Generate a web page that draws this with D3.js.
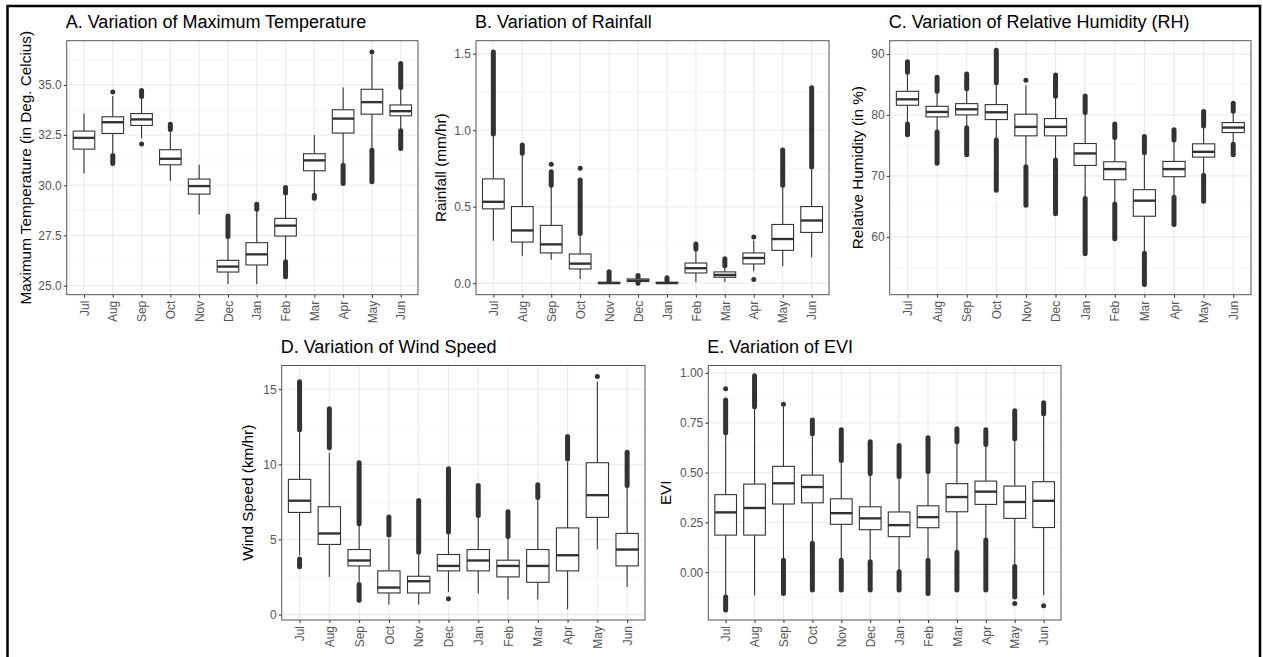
<!DOCTYPE html>
<html>
<head>
<meta charset="utf-8">
<script src="https://cdn.jsdelivr.net/npm/d3@7"></script>
<style>
  body { margin: 0; background: #fff; }
  svg { display: block; font-family: "Liberation Sans", Arial, sans-serif; }
</style>
</head>
<body>
<div id="chart"></div>
<script>
var months = ["Jul", "Aug", "Sep", "Oct", "Nov", "Dec", "Jan", "Feb", "Mar", "Apr", "May", "Jun"];

// box stats per month: [lower whisker, q1, median, q3, upper whisker]
// ranges = dense runs of outliers (drawn as stacked points), points = single outliers

// A. max temperature
var tempStats = [
  [30.59, 31.80, 32.36, 32.70, 33.57], [31.58, 32.58, 33.14, 33.41, 34.45],
  [32.33, 32.98, 33.28, 33.57, 34.35], [30.21, 31.02, 31.32, 31.77, 32.66],
  [28.55, 29.56, 29.96, 30.31, 31.02], [25.08, 25.68, 25.95, 26.26, 27.40],
  [25.08, 26.03, 26.56, 27.14, 28.76], [26.23, 27.47, 27.99, 28.35, 29.65],
  [29.59, 30.72, 31.24, 31.57, 32.50], [31.09, 32.60, 33.32, 33.76, 34.87],
  [31.83, 33.54, 34.14, 34.78, 36.50], [32.74, 33.46, 33.69, 34.00, 34.82]
];
var tempRanges = [
  [], [[31.09, 31.48]], [[34.42, 34.72]], [[32.78, 33.04]], [], [[27.45, 28.47]],
  [[28.80, 29.06]], [[25.45, 26.19], [29.62, 29.89]], [[29.35, 29.50]], [[30.09, 31.00]],
  [[30.17, 31.75]], [[31.83, 32.71], [34.87, 36.06]]
];
var tempPoints = [[], [34.64], [32.05], [], [], [], [], [], [], [], [36.64], []];
var tempTicks = [25, 27.5, 30, 32.5, 35];

// B. rainfall
var rainStats = [
  [0.278, 0.486, 0.532, 0.682, 0.968], [0.180, 0.269, 0.345, 0.501, 0.840],
  [0.154, 0.198, 0.254, 0.378, 0.632], [0.028, 0.093, 0.128, 0.191, 0.317],
  [0.000, 0.000, 0.001, 0.006, 0.010], [0.005, 0.011, 0.017, 0.028, 0.035],
  [0.000, 0.000, 0.001, 0.006, 0.010], [0.006, 0.067, 0.098, 0.132, 0.215],
  [0.006, 0.039, 0.054, 0.074, 0.110], [0.078, 0.126, 0.165, 0.198, 0.280],
  [0.111, 0.215, 0.289, 0.384, 0.632], [0.169, 0.332, 0.410, 0.501, 0.751]
];
var rainRanges = [
  [[0.975, 1.511]], [[0.850, 0.903]], [[0.640, 0.729]], [[0.325, 0.675]],
  [[0.012, 0.075]], [[0.038, 0.050]], [[0.013, 0.035]], [[0.224, 0.256]],
  [[0.115, 0.160]], [], [[0.640, 0.870]], [[0.760, 1.278]]
];
var rainPoints = [[], [], [0.777], [0.751], [], [0.0], [], [], [], [0.302, 0.024], [], []];
var rainTicks = [0, 0.5, 1.0, 1.5];

// C. relative humidity
var rhStats = [
  [78.65, 81.60, 82.58, 83.89, 86.94], [77.29, 79.69, 80.50, 81.43, 83.84],
  [77.94, 80.02, 80.94, 81.87, 84.22], [75.92, 79.25, 80.45, 81.71, 85.20],
  [71.56, 76.58, 78.05, 80.13, 84.90], [72.65, 76.58, 78.05, 79.42, 83.02],
  [66.38, 71.72, 73.69, 75.32, 80.29], [65.45, 69.38, 71.12, 72.32, 76.20],
  [57.38, 63.38, 65.94, 67.74, 73.74], [66.65, 69.87, 71.12, 72.38, 75.82],
  [70.20, 73.09, 73.96, 75.27, 78.11], [75.27, 77.12, 77.94, 78.76, 80.56]
];
var rhRanges = [
  [[76.74, 78.54], [87.00, 88.75]], [[72.10, 77.20], [83.90, 86.18]],
  [[73.47, 77.90], [84.30, 86.73]], [[67.63, 75.90], [85.30, 90.65]],
  [[65.18, 71.50]], [[63.81, 72.60], [83.10, 86.56]],
  [[57.21, 66.30], [80.40, 83.13]], [[59.67, 65.40], [76.30, 78.54]],
  [[52.19, 57.30], [73.80, 76.47]], [[62.01, 66.50], [75.90, 77.56]],
  [[65.83, 70.10], [78.20, 80.56]], [[73.47, 75.20], [80.60, 81.93]]
];
var rhPoints = [[], [], [], [], [85.7], [], [], [], [], [], [], []];
var rhTicks = [60, 70, 80, 90];

// D. wind speed
var windStats = [
  [3.95, 6.80, 7.58, 9.00, 12.20], [2.51, 4.67, 5.40, 7.18, 10.78],
  [2.18, 3.24, 3.60, 4.33, 5.96], [0.67, 1.44, 1.80, 2.91, 5.07],
  [0.67, 1.44, 2.22, 2.55, 4.07], [1.51, 2.91, 3.24, 4.00, 5.40],
  [1.40, 2.91, 3.60, 4.33, 6.51], [1.00, 2.51, 3.24, 3.62, 5.07],
  [1.00, 2.15, 3.24, 4.33, 7.62], [0.35, 2.91, 3.95, 5.77, 10.18],
  [4.35, 6.47, 7.95, 10.11, 15.50], [1.84, 3.24, 4.33, 5.40, 8.51]
];
var windRanges = [
  [[3.18, 3.70], [12.30, 15.50]], [[11.10, 13.70]], [[0.96, 2.00], [6.05, 10.10]],
  [[5.30, 6.50]], [[4.15, 7.60]], [[5.50, 9.70]], [[6.60, 8.60]], [[5.20, 6.85]],
  [[7.80, 8.65]], [[10.35, 11.85]], [], [[8.60, 10.80]]
];
var windPoints = [[], [], [], [], [], [1.05], [], [], [], [], [15.84], []];
var windTicks = [0, 5, 10, 15];

// E. EVI
var eviStats = [
  [-0.116, 0.186, 0.300, 0.389, 0.690], [-0.116, 0.186, 0.322, 0.442, 0.822],
  [0.069, 0.342, 0.446, 0.531, 0.831], [0.152, 0.348, 0.427, 0.487, 0.688],
  [0.069, 0.240, 0.296, 0.368, 0.554], [0.060, 0.213, 0.270, 0.328, 0.487],
  [0.010, 0.178, 0.236, 0.302, 0.474], [0.069, 0.223, 0.276, 0.333, 0.499],
  [0.106, 0.303, 0.377, 0.444, 0.647], [0.169, 0.340, 0.404, 0.457, 0.630],
  [0.035, 0.270, 0.352, 0.432, 0.663], [-0.116, 0.224, 0.358, 0.454, 0.789]
];
var eviRanges = [
  [[-0.190, -0.124], [0.700, 0.864]], [[0.830, 0.985]], [[-0.107, 0.060]],
  [[-0.090, 0.145], [0.695, 0.764]], [[-0.090, 0.060], [0.560, 0.715]],
  [[-0.090, 0.052], [0.495, 0.655]], [[-0.090, 0.002], [0.480, 0.635]],
  [[-0.107, 0.060], [0.505, 0.675]], [[-0.090, 0.100], [0.655, 0.720]],
  [[-0.090, 0.162], [0.640, 0.715]], [[-0.124, 0.028], [0.670, 0.810]],
  [[0.795, 0.850]]
];
var eviPoints = [[0.92], [], [0.843], [], [], [], [], [], [], [], [-0.157], [-0.169]];
var eviTicks = [0, 0.25, 0.5, 0.75, 1.0];

var W = 1263, H = 657;
var svg = d3.select("#chart").append("svg").attr("width", W).attr("height", H);
svg.append("rect").attr("width", W).attr("height", H).attr("fill", "#fff");

var ink = "#333333", R = 2.5;

function drawPanel(p) {
  var x = d3.scalePoint().domain(months).range([p.l, p.r]).padding(0.6);
  var y = d3.scaleLinear().domain(p.domain).range([p.b, p.t]);
  var bw = x.step() * 0.75;
  var g = svg.append("g");

  g.append("rect").attr("x", p.l).attr("y", p.t).attr("width", p.r - p.l).attr("height", p.b - p.t).attr("fill", "#fff");

  // minor grid halfway between breaks
  var step = p.ticks[1] - p.ticks[0];
  var minor = [];
  for (var i = -1; i < p.ticks.length; i++) {
    var v = p.ticks[0] + step * (i + 0.5);
    if (v > p.domain[0] && v < p.domain[1]) minor.push(v);
  }
  g.selectAll(".minor").data(minor).enter().append("line")
    .attr("x1", p.l).attr("x2", p.r).attr("y1", d => y(d)).attr("y2", d => y(d))
    .attr("stroke", "#f3f3f3").attr("stroke-width", 0.7);
  g.selectAll(".hmaj").data(p.ticks).enter().append("line")
    .attr("x1", p.l).attr("x2", p.r).attr("y1", d => y(d)).attr("y2", d => y(d))
    .attr("stroke", "#ebebeb").attr("stroke-width", 1.1);
  g.selectAll(".vmaj").data(months).enter().append("line")
    .attr("x1", d => x(d)).attr("x2", d => x(d)).attr("y1", p.t).attr("y2", p.b)
    .attr("stroke", "#ebebeb").attr("stroke-width", 1.1);

  var box = g.selectAll(".box").data(months).enter().append("g");
  // outliers first, like ggplot
  box.each(function (m, i) {
    var gg = d3.select(this), cx = x(m);
    p.ranges[i].forEach(function (rg) {
      gg.append("line").attr("x1", cx).attr("x2", cx)
        .attr("y1", y(rg[0])).attr("y2", y(rg[1]))
        .attr("stroke", ink).attr("stroke-width", R * 2).attr("stroke-linecap", "round");
    });
    p.points[i].forEach(function (v) {
      gg.append("circle").attr("cx", cx).attr("cy", y(v)).attr("r", R).attr("fill", ink);
    });
    var s = p.stats[i];
    gg.append("line").attr("x1", cx).attr("x2", cx).attr("y1", y(s[0])).attr("y2", y(s[1]))
      .attr("stroke", ink).attr("stroke-width", 1.1);
    gg.append("line").attr("x1", cx).attr("x2", cx).attr("y1", y(s[3])).attr("y2", y(s[4]))
      .attr("stroke", ink).attr("stroke-width", 1.1);
    gg.append("rect").attr("x", cx - bw / 2).attr("width", bw)
      .attr("y", y(s[3])).attr("height", Math.max(y(s[1]) - y(s[3]), 0.5))
      .attr("fill", "#fff").attr("stroke", ink).attr("stroke-width", 1.1);
    gg.append("line").attr("x1", cx - bw / 2).attr("x2", cx + bw / 2)
      .attr("y1", y(s[2])).attr("y2", y(s[2]))
      .attr("stroke", ink).attr("stroke-width", 2.4);
  });

  g.append("rect").attr("x", p.l).attr("y", p.t).attr("width", p.r - p.l).attr("height", p.b - p.t)
    .attr("fill", "none").attr("stroke", "#555").attr("stroke-width", 1);

  // y axis
  var ya = g.append("g").attr("transform", "translate(" + p.l + ",0)")
    .call(d3.axisLeft(y).tickValues(p.ticks).tickFormat(p.fmt).tickSize(3).tickPadding(2));
  ya.select(".domain").remove();
  ya.selectAll("line").attr("stroke", ink);
  ya.selectAll("text").attr("fill", "#555").style("font-size", "12px").style("font-family", "inherit");

  // x axis, labels turned to read upward
  var xa = g.append("g").attr("transform", "translate(0," + p.b + ")")
    .call(d3.axisBottom(x).tickSize(3).tickPadding(3));
  xa.select(".domain").remove();
  xa.selectAll("line").attr("stroke", ink);
  xa.selectAll("text").attr("fill", "#555").style("font-size", "12px").style("font-family", "inherit")
    .attr("transform", "rotate(-90)").attr("text-anchor", "end")
    .attr("x", -6).attr("y", 0).attr("dy", "0.35em");

  g.append("text").attr("x", p.l - 1).attr("y", p.t - 12.5)
    .style("font-size", "18px").attr("fill", "#000").text(p.title);
  g.append("text")
    .attr("transform", "translate(" + p.yt + "," + ((p.t + p.b) / 2) + ") rotate(-90)")
    .attr("text-anchor", "middle").attr("dy", "0.35em")
    .style("font-size", "15.3px").attr("fill", "#000").text(p.ytitle);
}

drawPanel({ l: 66.7, r: 418, t: 40.7, b: 294.7, yt: 26, domain: [24.55, 37.2], ticks: tempTicks,
  fmt: d3.format(".1f"), title: "A. Variation of Maximum Temperature",
  ytitle: "Maximum Temperature (in Deg. Celcius)", stats: tempStats, ranges: tempRanges, points: tempPoints });
drawPanel({ l: 476, r: 829, t: 40.7, b: 294.7, yt: 441, domain: [-0.075, 1.585], ticks: rainTicks,
  fmt: d3.format(".1f"), title: "B. Variation of Rainfall",
  ytitle: "Rainfall (mm/hr)", stats: rainStats, ranges: rainRanges, points: rainPoints });
drawPanel({ l: 889.7, r: 1251, t: 40.7, b: 294.7, yt: 858, domain: [50.5, 92.2], ticks: rhTicks,
  fmt: d3.format("d"), title: "C. Variation of Relative Humidity (RH)",
  ytitle: "Relative Humidity (in %)", stats: rhStats, ranges: rhRanges, points: rhPoints });
drawPanel({ l: 281.7, r: 645, t: 365.5, b: 620, yt: 248, domain: [-0.36, 16.58], ticks: windTicks,
  fmt: d3.format("d"), title: "D. Variation of Wind Speed",
  ytitle: "Wind Speed (km/hr)", stats: windStats, ranges: windRanges, points: windPoints });
drawPanel({ l: 708.3, r: 1061, t: 365.5, b: 620, yt: 666, domain: [-0.24, 1.037], ticks: eviTicks,
  fmt: d3.format(".2f"), title: "E. Variation of EVI",
  ytitle: "EVI", stats: eviStats, ranges: eviRanges, points: eviPoints });

// figure frame
svg.append("rect").attr("x", 7.5).attr("y", 6).attr("width", 1252.5).attr("height", 660)
  .attr("fill", "none").attr("stroke", "#000").attr("stroke-width", 2.5);
</script>
</body>
</html>
